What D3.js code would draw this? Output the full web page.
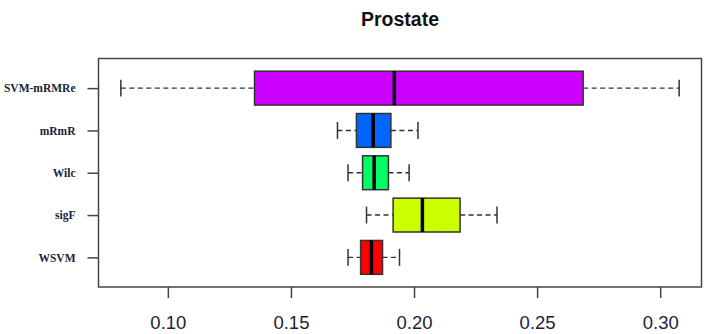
<!DOCTYPE html>
<html><head><meta charset="utf-8">
<script src="https://cdn.jsdelivr.net/npm/d3@7"></script>
<style>html,body{margin:0;padding:0;background:#fff;}</style>
</head><body>
<svg id="c" width="706" height="334"></svg>
<script>
// Data (bottom to top order)
const categories = ["WSVM", "sigF", "Wilc", "mRmR", "SVM-mRMRe"];
const whiskerLow  = [0.1732, 0.1807, 0.1732, 0.1689, 0.0809];
const q1          = [0.1783, 0.1915, 0.1791, 0.1766, 0.1352];
const medians     = [0.1827, 0.2034, 0.1838, 0.1834, 0.1920];
const q3          = [0.1872, 0.2187, 0.1896, 0.1906, 0.2687];
const whiskerHigh = [0.1941, 0.2337, 0.1980, 0.2016, 0.3077];
const fills       = ["#FF0000", "#CCFF00", "#00FF66", "#0066FF", "#CC00FF"];
const xTicks      = [0.10, 0.15, 0.20, 0.25, 0.30];
const title       = "Prostate";

const svg = d3.select("#c");
const L = 98.5, R = 701.5, T = 58.5, B = 287;

const lo = d3.min(whiskerLow), hi = d3.max(whiskerHigh);
const pad = (hi - lo) * 0.04;
const x = d3.scaleLinear().domain([lo - pad, hi + pad]).range([L, R]);
const n = categories.length;
const y = d3.scaleLinear().domain([0.5 - n*0.04, n + 0.5 + n*0.04]).range([B, T]);

const data = categories.map((c, i) => ({c, pos: i + 1, lo: whiskerLow[i], q1: q1[i], med: medians[i], q3: q3[i], hi: whiskerHigh[i], fill: fills[i]}));

const g = svg.append("g");
const boxW = 0.4, stapleW = 0.2;
const groups = g.selectAll("g.bx").data(data).join("g").attr("class", "bx");

// whiskers dashed
groups.append("line").attr("x1", d => x(d.lo)).attr("x2", d => x(d.q1))
  .attr("y1", d => y(d.pos)).attr("y2", d => y(d.pos))
  .attr("stroke", "#333").attr("stroke-width", 1.4).attr("stroke-dasharray", "5,3.5");
groups.append("line").attr("x1", d => x(d.q3)).attr("x2", d => x(d.hi))
  .attr("y1", d => y(d.pos)).attr("y2", d => y(d.pos))
  .attr("stroke", "#333").attr("stroke-width", 1.4).attr("stroke-dasharray", "5,3.5");
// staples
groups.append("line").attr("x1", d => x(d.lo)).attr("x2", d => x(d.lo))
  .attr("y1", d => y(d.pos - stapleW)).attr("y2", d => y(d.pos + stapleW))
  .attr("stroke", "#333").attr("stroke-width", 1.5);
groups.append("line").attr("x1", d => x(d.hi)).attr("x2", d => x(d.hi))
  .attr("y1", d => y(d.pos - stapleW)).attr("y2", d => y(d.pos + stapleW))
  .attr("stroke", "#333").attr("stroke-width", 1.5);
// boxes
groups.append("rect").attr("x", d => x(d.q1)).attr("width", d => x(d.q3) - x(d.q1))
  .attr("y", d => y(d.pos + boxW)).attr("height", d => y(d.pos - boxW) - y(d.pos + boxW))
  .attr("fill", d => d.fill).attr("stroke", "#333").attr("stroke-width", 1.5);
// medians
groups.append("line").attr("x1", d => x(d.med)).attr("x2", d => x(d.med))
  .attr("y1", d => y(d.pos + boxW)).attr("y2", d => y(d.pos - boxW))
  .attr("stroke", "#000").attr("stroke-width", 3.5);

// frame
svg.append("rect").attr("x", L).attr("y", T).attr("width", R - L).attr("height", B - T)
  .attr("fill", "none").attr("stroke", "#444").attr("stroke-width", 1.5);

// x axis
const xAxis = svg.append("g").attr("transform", `translate(0,${B})`)
  .call(d3.axisBottom(x).tickValues(xTicks).tickFormat(d3.format(".2f")).tickSize(11).tickPadding(31));
xAxis.select(".domain").remove();
xAxis.selectAll("line").attr("stroke", "#444").attr("stroke-width", 1.5);
xAxis.selectAll("text").attr("font-family", "Liberation Sans, Arial, sans-serif")
  .attr("font-size", 18.5).attr("fill", "#1b2436").attr("dy", "0");

// y axis
const yAxis = svg.append("g").attr("transform", `translate(${L},0)`)
  .call(d3.axisLeft(y).tickValues(data.map(d => d.pos)).tickFormat((d, i) => categories[d - 1]).tickSize(11).tickPadding(12));
yAxis.select(".domain").remove();
yAxis.selectAll("line").attr("stroke", "#444").attr("stroke-width", 1.5);
yAxis.selectAll("text").attr("font-family", "Liberation Serif, Times New Roman, serif")
  .attr("font-weight", "bold").attr("font-size", 11.5).attr("fill", "#1a1f3a");

// title
svg.append("text").attr("x", (L + R) / 2).attr("y", 26).attr("text-anchor", "middle")
  .attr("font-family", "Liberation Sans, Arial, sans-serif").attr("font-weight", "bold")
  .attr("font-size", 19.5).attr("fill", "#111").text(title);
</script>
</body></html>
